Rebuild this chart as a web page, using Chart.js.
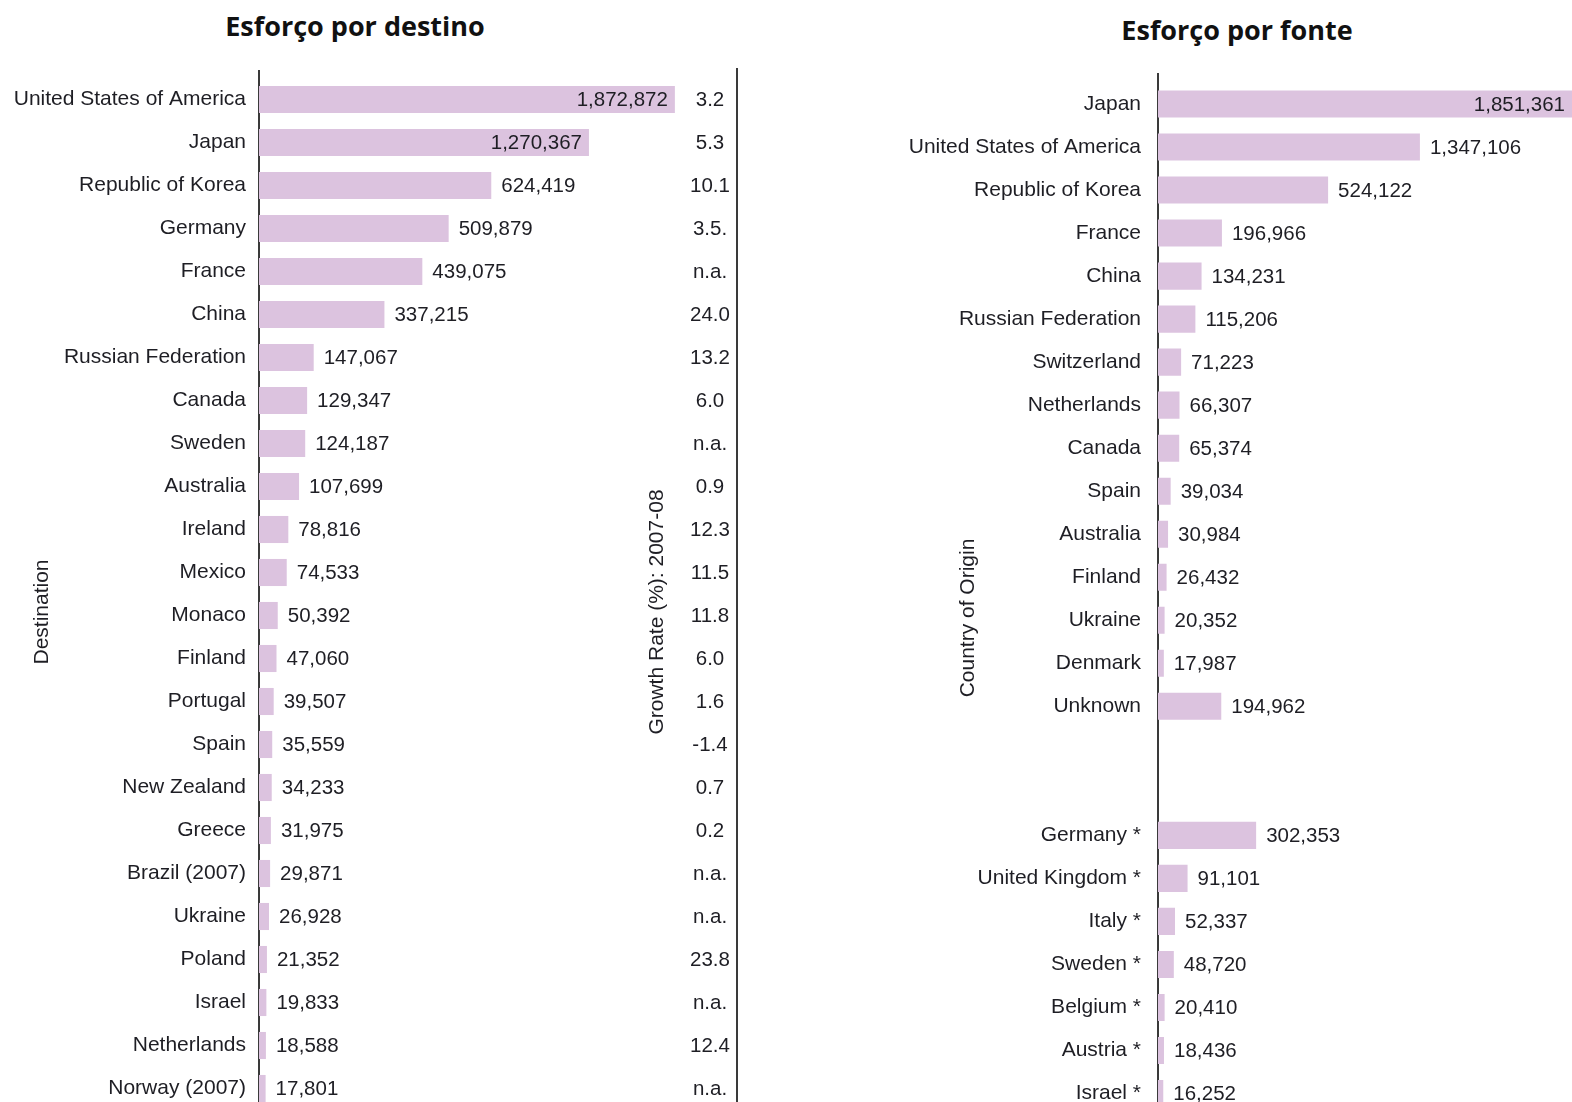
<!DOCTYPE html>
<html>
<head>
<meta charset="utf-8">
<script src="https://cdn.jsdelivr.net/npm/chart.js@4/dist/chart.umd.min.js"></script>
<style>
  html, body { margin: 0; padding: 0; background: #ffffff; overflow: hidden; width: 1572px; height: 1102px; }
  .title { position: absolute; font-family: "Open Sans", sans-serif; font-weight: 700; font-size: 27px; color: #111; text-align: center; width: 500px; line-height: 32px; white-space: nowrap; }
  canvas { position: absolute; top: 0; }
</style>
</head>
<body>
<div class="title" style="left:105px; top:10px;">Esforço por destino</div>
<div class="title" style="left:987px; top:14px;">Esforço por fonte</div>
<canvas id="left" width="760" height="1110" style="left:0px;"></canvas>
<canvas id="right" width="692" height="1115" style="left:880px;"></canvas>
<script>
// ---------- Data: destination ----------
const destLabels = ['United States of America','Japan','Republic of Korea','Germany','France','China','Russian Federation','Canada','Sweden','Australia','Ireland','Mexico','Monaco','Finland','Portugal','Spain','New Zealand','Greece','Brazil (2007)','Ukraine','Poland','Israel','Netherlands','Norway (2007)'];
const destValues = [1872872,1270367,624419,509879,439075,337215,147067,129347,124187,107699,78816,74533,50392,47060,39507,35559,34233,31975,29871,26928,21352,19833,18588,17801];
// drawn lengths of the bars that are cut short (axis break) in the original
const destBrokenBars = [1118000, 887000];
const growthRates = ['3.2','5.3','10.1','3.5.','n.a.','24.0','13.2','6.0','n.a.','0.9','12.3','11.5','11.8','6.0','1.6','-1.4','0.7','0.2','n.a.','n.a.','23.8','n.a.','12.4','n.a.'];

// ---------- Data: source ----------
const srcLabels = ['Japan','United States of America','Republic of Korea','France','China','Russian Federation','Switzerland','Netherlands','Canada','Spain','Australia','Finland','Ukraine','Denmark','Unknown','','','Germany *','United Kingdom *','Italy *','Sweden *','Belgium *','Austria *','Israel *'];
const srcValues = [1851361,1347106,524122,196966,134231,115206,71223,66307,65374,39034,30984,26432,20352,17987,194962,null,null,302353,91101,52337,48720,20410,18436,16252];
const srcBrokenBars = [null, 807000];

const FONT = '"Liberation Sans", Arial, sans-serif';
const TEXT = '#1e1e24';
const BAR = '#dcc3df';

function fmt(v) { return v.toLocaleString('en-US'); }

function valueLabelPlugin(realValues, limitFn) {
  return {
    id: 'valueLabels',
    afterDatasetsDraw(chart) {
      const ctx = chart.ctx;
      const meta = chart.getDatasetMeta(0);
      const ca = chart.chartArea;
      ctx.save();
      ctx.font = '20.5px ' + FONT;
      ctx.fillStyle = TEXT;
      ctx.textBaseline = 'middle';
      meta.data.forEach((bar, i) => {
        const v = realValues[i];
        if (v === null || v === undefined) return;
        const txt = fmt(v);
        const w = ctx.measureText(txt).width;
        const end = Math.min(bar.x, ca.right);
        const limit = limitFn(chart);
        if (end + 10 + w > limit) {
          ctx.textAlign = 'right';
          ctx.fillText(txt, end - 7, bar.y + 1);
        } else {
          ctx.textAlign = 'left';
          ctx.fillText(txt, end + 10, bar.y + 1);
        }
      });
      ctx.restore();
    }
  };
}

function axisLinePlugin(topY, extra) {
  return {
    id: 'axisLines',
    beforeDatasetsDraw(chart) {
      const ctx = chart.ctx;
      const ca = chart.chartArea;
      ctx.save();
      ctx.strokeStyle = '#3a3a3a';
      ctx.lineWidth = 2;
      ctx.beginPath();
      ctx.moveTo(ca.left, topY);
      ctx.lineTo(ca.left, ca.bottom + 10);
      ctx.stroke();
      ctx.restore();
    },
    afterDraw(chart) { if (extra) extra(chart); }
  };
}

function rotatedText(ctx, txt, x, y) {
  ctx.save();
  ctx.translate(x, y);
  ctx.rotate(-Math.PI / 2);
  ctx.font = '21px ' + FONT;
  ctx.fillStyle = TEXT;
  ctx.textAlign = 'center';
  ctx.textBaseline = 'middle';
  ctx.fillText(txt, 0, 0);
  ctx.restore();
}

function baseOptions(maxX, yWidth, padTop, padRight, tickPad) {
  return {
    responsive: false,
    animation: false,
    devicePixelRatio: 1,
    indexAxis: 'y',
    layout: { padding: { top: padTop, right: padRight, bottom: 0, left: 0 } },
    plugins: { legend: { display: false }, tooltip: { enabled: false }, title: { display: false } },
    scales: {
      x: { display: false, min: 0, max: maxX, grid: { display: false } },
      y: {
        grid: { display: false, drawTicks: false },
        border: { display: false },
        ticks: { autoSkip: false, color: TEXT, font: { family: FONT, size: 21 }, padding: tickPad },
        afterFit: (s) => { s.width = yWidth; s.paddingTop = 0; s.paddingBottom = 0; }
      }
    }
  };
}

// ---------- Left chart ----------
const destDrawn = destValues.map((v, i) => (i < destBrokenBars.length && destBrokenBars[i] !== null) ? destBrokenBars[i] : v);
new Chart(document.getElementById('left'), {
  type: 'bar',
  data: {
    labels: destLabels,
    datasets: [{ data: destDrawn, backgroundColor: BAR, borderWidth: 0, barPercentage: 0.63, categoryPercentage: 1.0 }]
  },
  options: baseOptions(1285000, 259, 78, 23, 13),
  plugins: [
    valueLabelPlugin(destValues, () => 683),
    axisLinePlugin(70, (chart) => {
      const ctx = chart.ctx;
      const ca = chart.chartArea;
      const ys = chart.scales.y;
      ctx.save();
      ctx.strokeStyle = '#3a3a3a';
      ctx.lineWidth = 2;
      ctx.beginPath();
      ctx.moveTo(ca.right, 68);
      ctx.lineTo(ca.right, ca.bottom + 10);
      ctx.stroke();
      ctx.font = '20.5px ' + FONT;
      ctx.fillStyle = TEXT;
      ctx.textAlign = 'center';
      ctx.textBaseline = 'middle';
      growthRates.forEach((g, i) => {
        ctx.fillText(g, ca.right - 27, ys.getPixelForValue(i) + 1);
      });
      ctx.restore();
      rotatedText(ctx, 'Growth Rate (%): 2007-08', 657, 612);
      rotatedText(ctx, 'Destination', 42, 612);
    })
  ]
});

// ---------- Right chart ----------
const srcDrawn = srcValues.map((v, i) => (i < srcBrokenBars.length && srcBrokenBars[i] !== null) ? srcBrokenBars[i] : v);
new Chart(document.getElementById('right'), {
  type: 'bar',
  data: {
    labels: srcLabels,
    datasets: [{ data: srcDrawn, backgroundColor: BAR, borderWidth: 0, barPercentage: 0.63, categoryPercentage: 1.0 }]
  },
  options: baseOptions(1275600, 278, 82.5, 0, 17),
  plugins: [
    valueLabelPlugin(srcValues, (chart) => chart.chartArea.right),
    axisLinePlugin(73, (chart) => {
      rotatedText(chart.ctx, 'Country of Origin', 88, 618);
    })
  ]
});
</script>
</body>
</html>
